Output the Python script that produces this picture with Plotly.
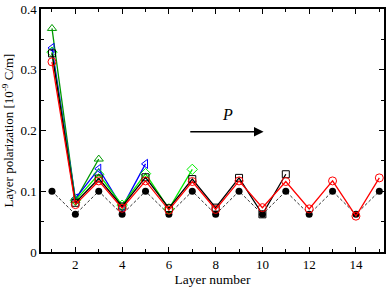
import plotly.graph_objects as go

layers = list(range(1, 16))
ref_dots = [0.1, 0.062, 0.1, 0.062, 0.1, 0.062, 0.1, 0.062, 0.1, 0.062, 0.1, 0.062, 0.1, 0.062, 0.1]
tri_up = [0.368, 0.085, 0.153]
tri_left = [0.336, 0.088, 0.137, 0.0735, 0.145]
diamond = [0.329, 0.085, 0.128, 0.077, 0.129, 0.071, 0.136]
square = [0.327, 0.081, 0.121, 0.075, 0.123, 0.072, 0.12, 0.073, 0.122, 0.062, 0.128]
circle = [0.313, 0.078, 0.117, 0.072, 0.117, 0.069, 0.116, 0.07, 0.117, 0.073, 0.116, 0.071, 0.117, 0.059, 0.122]
x_ticks = [2, 4, 6, 8, 10, 12, 14]
y_ticks = [0, 0.1, 0.2, 0.3, 0.4]
y_labels = ["0", "0.1", "0.2", "0.3", "0.4"]

font = "Liberation Serif"
fig = go.Figure()
fig.add_trace(go.Scatter(x=layers, y=ref_dots, mode="lines+markers",
                         line=dict(color="#333333", width=1, dash="3px,2px"),
                         marker=dict(symbol="circle", size=7, color="black")))
fig.add_trace(go.Scatter(x=layers[:len(tri_up)], y=tri_up, mode="lines+markers",
                         line=dict(color="#009900", width=1.3),
                         marker=dict(symbol="triangle-up-open", size=8, color="#009900")))
fig.add_trace(go.Scatter(x=layers[:len(tri_left)], y=tri_left, mode="lines+markers",
                         line=dict(color="#0000ff", width=1.3),
                         marker=dict(symbol="triangle-left-open", size=8, color="#0000ff")))
fig.add_trace(go.Scatter(x=layers[:len(diamond)], y=diamond, mode="lines+markers",
                         line=dict(color="#00ee00", width=1.3),
                         marker=dict(symbol="diamond-open", size=8, color="#00ee00")))
fig.add_trace(go.Scatter(x=layers[:len(square)], y=square, mode="lines+markers",
                         line=dict(color="black", width=1.3),
                         marker=dict(symbol="square-open", size=7, color="black")))
fig.add_trace(go.Scatter(x=layers[:len(circle)], y=circle, mode="lines+markers",
                         line=dict(color="#ff0000", width=1.3),
                         marker=dict(symbol="circle-open", size=8, color="#ff0000")))

fig.add_annotation(x=10.05, y=0.198, ax=6.85, ay=0.198, xref="x", yref="y", axref="x", ayref="y",
                   text="", showarrow=True, arrowhead=2, arrowsize=1.2, arrowwidth=1.6, arrowcolor="black")
fig.add_annotation(x=8.5, y=0.226, xref="x", yref="y", text="<i>P</i>", showarrow=False,
                   font=dict(family=font, size=16, color="black"))

axis_common = dict(showline=True, linecolor="black", linewidth=1.5, mirror="allticks",
                   ticks="inside", ticklen=5, tickcolor="black", showgrid=False, zeroline=False,
                   ticklabeloverflow="allow",
                   tickfont=dict(family=font, size=13, color="black"))
fig.update_xaxes(range=[0.53, 15.2], tickmode="array", tickvals=x_ticks,
                 minor=dict(tickvals=[1, 3, 5, 7, 9, 11, 13, 15], ticks="inside", ticklen=3, tickcolor="black"),
                 title=dict(text="Layer number", font=dict(family=font, size=13.5, color="black"), standoff=3),
                 **axis_common)
fig.update_yaxes(range=[0, 0.4], tickmode="array", tickvals=y_ticks, ticktext=y_labels,
                 minor=dict(tickvals=[0.05, 0.15, 0.25, 0.35], ticks="inside", ticklen=3, tickcolor="black"),
                 title=dict(text="Layer polarization [10<sup>-9</sup> C/m]", font=dict(family=font, size=13, color="black"), standoff=6),
                 **axis_common)
fig.update_layout(width=388, height=287, margin=dict(l=41, r=2, t=6, b=29),
                  showlegend=False, plot_bgcolor="white", paper_bgcolor="white")
fig.write_html("out.html", config={"displayModeBar": False},
               post_script="document.body.style.margin='0px';document.body.style.overflow='hidden';")
